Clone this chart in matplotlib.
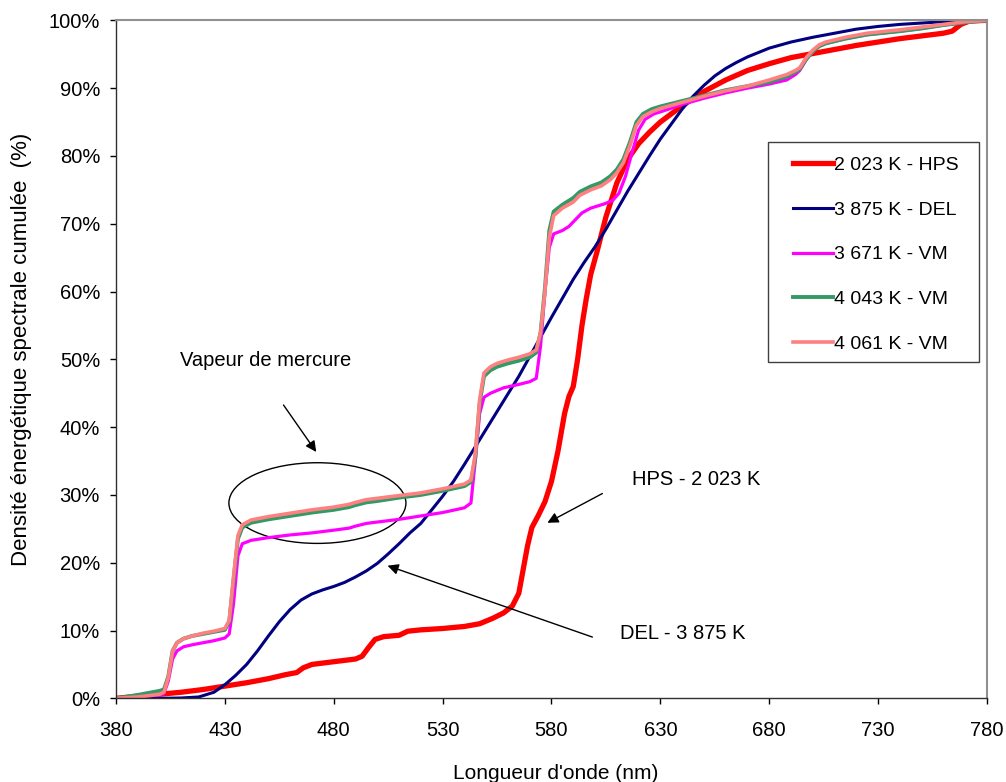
#!python3
# cumulative spectral energy density of several light sources (HPS, LED, mercury vapour)

import matplotlib.pyplot as plt
from matplotlib.patches import Ellipse, Rectangle
from matplotlib.ticker import PercentFormatter

# wavelength (nm) / cumulated energy (%) for each lamp
hps_nm = [380, 390, 400, 410, 420, 430, 440, 450, 458, 463, 466, 470, 480, 490,
          493, 496, 499, 503, 510, 514, 520, 530, 540, 547, 553, 558, 562, 565,
          567, 569, 571, 574, 577, 580, 583, 586, 588, 590, 592, 594, 596, 598,
          601, 605, 610, 615, 620, 625, 630, 640, 650, 660, 670, 680, 690, 700,
          710, 720, 730, 740, 750, 760, 764, 768, 772, 780]
hps_pct = [0.0, 0.3, 0.6, 0.9, 1.3, 1.8, 2.3, 2.9, 3.5, 3.8, 4.5, 5.0, 5.4, 5.8,
           6.2, 7.5, 8.7, 9.1, 9.3, 9.9, 10.1, 10.3, 10.6, 11.0, 11.8, 12.6, 13.6, 15.5,
           19.0, 22.5, 25.2, 27.0, 29.0, 32.0, 36.5, 42.0, 44.5, 46.0, 50.0, 55.0, 59.0, 62.5,
           66.0, 71.0, 76.0, 79.5, 81.8, 83.5, 85.0, 87.4, 89.5, 91.2, 92.6, 93.6, 94.5, 95.1,
           95.7, 96.3, 96.8, 97.3, 97.7, 98.1, 98.4, 99.4, 99.9, 100.0]

del_nm = [380, 400, 410, 418, 425, 430, 435, 440, 445, 450, 455, 460, 465, 470,
          475, 480, 485, 490, 495, 500, 505, 510, 515, 520, 525, 530, 535, 540,
          545, 550, 555, 560, 565, 570, 575, 580, 585, 590, 595, 600, 605, 610,
          615, 620, 625, 630, 635, 640, 645, 650, 655, 660, 665, 670, 680, 690,
          700, 710, 720, 730, 740, 750, 760, 780]
del_pct = [0.0, 0.0, 0.05, 0.2, 0.9, 2.0, 3.4, 5.0, 7.0, 9.2, 11.3, 13.1, 14.5, 15.4,
           16.0, 16.5, 17.1, 17.9, 18.8, 19.9, 21.3, 22.8, 24.4, 25.8, 27.8, 29.8, 32.0, 34.5,
           37.1, 39.7, 42.3, 44.9, 47.5, 50.4, 53.3, 56.2, 59.0, 61.8, 64.3, 66.6, 69.2, 72.0,
           74.8, 77.4, 80.0, 82.5, 84.7, 86.9, 88.8, 90.4, 91.8, 92.9, 93.8, 94.6, 95.9, 96.8,
           97.5, 98.1, 98.7, 99.1, 99.4, 99.6, 99.8, 100.0]

vm3671_nm = [380, 390, 400, 402, 404, 406, 408, 411, 415, 420, 425, 430, 432, 434,
             436, 438, 442, 450, 460, 470, 480, 487, 490, 495, 500, 510, 520, 530,
             540, 543, 545, 547, 549, 552, 558, 565, 570, 573, 575, 577, 579, 581,
             585, 588, 591, 594, 598, 604, 608, 611, 614, 617, 620, 623, 627, 631,
             640, 650, 660, 670, 680, 688, 692, 694, 697, 700, 703, 706, 715, 725,
             740, 750, 760, 770, 780]
vm3671_pct = [0.0, 0.2, 0.5, 0.7, 2.5, 5.8, 7.0, 7.6, 7.9, 8.2, 8.5, 8.9, 9.5, 14.0,
              21.0, 22.8, 23.3, 23.7, 24.1, 24.4, 24.8, 25.1, 25.4, 25.8, 26.0, 26.4, 26.9, 27.4,
              28.1, 28.8, 35.0, 42.0, 44.4, 45.0, 45.8, 46.3, 46.7, 47.2, 52.0, 60.0, 66.5, 68.5,
              69.0, 69.6, 70.6, 71.6, 72.3, 72.9, 73.4, 74.5, 77.0, 80.5, 83.8, 85.4, 86.2, 86.6,
              87.6, 88.5, 89.3, 90.0, 90.6, 91.2, 92.0, 92.6, 94.2, 95.4, 96.2, 96.6, 97.3, 97.9,
              98.4, 98.8, 99.3, 99.7, 100.0]

vm4043_nm = [380, 390, 400, 402, 404, 406, 408, 411, 415, 420, 425, 430, 432, 434,
             436, 438, 442, 450, 460, 470, 480, 487, 490, 495, 500, 510, 520, 530,
             540, 543, 545, 547, 549, 552, 555, 560, 565, 570, 573, 575, 577, 579,
             581, 585, 590, 593, 598, 603, 607, 610, 613, 616, 619, 622, 626, 630,
             640, 650, 660, 670, 680, 688, 692, 694, 697, 700, 703, 706, 715, 725,
             740, 750, 760, 770, 780]
vm4043_pct = [0.0, 0.5, 1.1, 1.3, 3.2, 7.0, 8.2, 8.8, 9.2, 9.5, 9.8, 10.1, 11.3, 17.5,
              23.5, 25.2, 25.9, 26.4, 26.9, 27.4, 27.8, 28.2, 28.5, 28.9, 29.1, 29.6, 30.0, 30.6,
              31.3, 31.9, 35.5, 43.5, 47.5, 48.4, 48.9, 49.4, 49.8, 50.3, 51.0, 54.0, 60.5, 69.0,
              71.8, 72.8, 73.8, 74.7, 75.5, 76.1, 77.0, 78.0, 79.5, 82.0, 85.0, 86.2, 86.9, 87.3,
              88.1, 88.9, 89.7, 90.3, 90.9, 91.7, 92.4, 92.8, 94.3, 95.4, 96.2, 96.6, 97.3, 97.9,
              98.4, 98.8, 99.3, 99.7, 100.0]

vm4061_nm = [380, 390, 400, 402, 404, 406, 408, 411, 415, 420, 425, 430, 432, 434,
             436, 438, 442, 450, 460, 470, 480, 487, 490, 495, 500, 510, 520, 530,
             540, 543, 545, 547, 549, 552, 555, 560, 565, 570, 573, 575, 577, 579,
             581, 585, 590, 593, 598, 603, 607, 610, 613, 616, 619, 622, 626, 630,
             640, 650, 660, 670, 680, 688, 692, 694, 697, 700, 703, 706, 715, 725,
             740, 750, 760, 770, 780]
vm4061_pct = [0.0, 0.2, 0.6, 0.9, 3.0, 7.0, 8.2, 8.8, 9.2, 9.6, 9.9, 10.3, 11.5, 18.0,
              24.0, 25.6, 26.3, 26.8, 27.3, 27.8, 28.2, 28.6, 28.9, 29.3, 29.5, 29.9, 30.3, 30.9,
              31.6, 32.2, 36.0, 44.0, 48.0, 48.9, 49.4, 49.9, 50.3, 50.8, 51.4, 54.0, 60.0, 68.0,
              71.2, 72.3, 73.2, 74.2, 75.0, 75.6, 76.5, 77.5, 79.0, 81.5, 84.5, 85.8, 86.5, 87.0,
              87.9, 88.8, 89.6, 90.3, 91.2, 92.0, 92.6, 93.0, 94.5, 95.6, 96.4, 96.8, 97.5, 98.1,
              98.6, 99.0, 99.4, 99.8, 100.0]

series_labels = ["2 023 K - HPS", "3 875 K - DEL", "3 671 K - VM",
                 "4 043 K - VM", "4 061 K - VM"]
x_ticks = [380, 430, 480, 530, 580, 630, 680, 730, 780]
y_ticks = [0, 10, 20, 30, 40, 50, 60, 70, 80, 90, 100]


def main():
    plt.rcParams['font.family'] = ['Liberation Sans', 'DejaVu Sans']

    fig = plt.figure(figsize=(10.06, 7.82), dpi=100)
    ax = fig.add_axes([0.1153, 0.107, 0.8658, 0.867])

    # curves, thickest one first so the others sit on top
    ax.plot(hps_nm, hps_pct, color='#FF0000', lw=3.8, label=series_labels[0])
    ax.plot(del_nm, del_pct, color='#000080', lw=2.2, label=series_labels[1])
    ax.plot(vm3671_nm, vm3671_pct, color='#FF00FF', lw=2.3, label=series_labels[2])
    ax.plot(vm4043_nm, vm4043_pct, color='#339966', lw=2.8, label=series_labels[3])
    ax.plot(vm4061_nm, vm4061_pct, color='#FF8080', lw=2.6, label=series_labels[4])

    ax.set_xlim(380, 780)
    ax.set_ylim(0, 100)
    ax.set_xticks(x_ticks)
    ax.set_yticks(y_ticks)
    ax.yaxis.set_major_formatter(PercentFormatter(decimals=0))
    ax.tick_params(axis='both', direction='out', length=4, width=1, labelsize=14.5)
    ax.tick_params(axis='x', pad=12)
    ax.tick_params(axis='y', pad=7.5)

    for side in ['left', 'bottom']:
        ax.spines[side].set_color('#303030')
        ax.spines[side].set_linewidth(1.0)
    for side in ['top', 'right']:
        ax.spines[side].set_color('#909090')
        ax.spines[side].set_linewidth(1.5)

    ax.set_xlabel("Longueur d'onde (nm)", fontsize=15)
    ax.xaxis.set_label_coords(0.5046, -0.097)
    ax.set_ylabel("Densité énergétique spectrale cumulée  (%)", fontsize=16)
    ax.yaxis.set_label_coords(-0.097, 0.515)

    # mercury vapour group highlighted with an ellipse
    ax.add_patch(Ellipse((472.5, 28.8), 81.3, 11.9, fill=False,
                         edgecolor='black', lw=1.0))

    arrow = dict(arrowstyle='-|>', color='black', lw=1.0, mutation_scale=16)
    ax.annotate('', xy=(472.7, 36.0), xytext=(456.2, 43.6), arrowprops=arrow)
    ax.annotate('', xy=(577.0, 25.7), xytext=(604.5, 30.4), arrowprops=arrow)
    ax.annotate('', xy=(503.5, 19.7), xytext=(600.0, 8.9), arrowprops=arrow)

    ax.text(409.4, 49.9, 'Vapeur de mercure', fontsize=14.5, va='center')
    ax.text(616.9, 32.3, 'HPS - 2 023 K', fontsize=14.5, va='center')
    ax.text(611.4, 9.5, 'DEL - 3 875 K', fontsize=14.5, va='center')

    # legend box drawn separately so its padding can differ in x and y
    ax.add_patch(Rectangle((0.7486, 0.496), 0.2423, 0.3245, transform=ax.transAxes,
                           facecolor='white', edgecolor='#404040', lw=1.0,
                           zorder=4))
    ax.legend(loc='upper left', bbox_to_anchor=(0.7775, 0.799),
              fontsize=14, frameon=False, handlelength=2.05,
              handletextpad=0.05, labelspacing=1.39,
              borderpad=0, borderaxespad=0)

    fig.savefig('out.png', dpi=100)


main()
